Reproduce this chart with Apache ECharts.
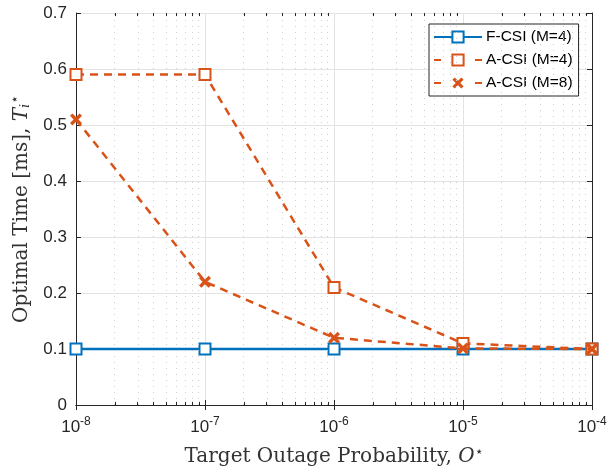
<!DOCTYPE html>
<html>
<head>
<meta charset="utf-8">
<script src="https://cdn.jsdelivr.net/npm/echarts@6/dist/echarts.min.js"></script>
<style>
  html, body { margin: 0; padding: 0; background: #fff; }
  #chart { width: 609px; height: 472px; }
</style>
</head>
<body>
<div id="chart"></div>
<script>
// 目标中断概率 (x, 对数轴)
var outage = [1e-8, 1e-7, 1e-6, 1e-5, 1e-4];
var fcsi_m4 = [0.1, 0.1, 0.1, 0.1, 0.1];
var acsi_m4 = [0.59, 0.59, 0.21, 0.11, 0.1];
var acsi_m8 = [0.51, 0.22, 0.12, 0.101, 0.1];
var decades = [-8, -7, -6, -5];     // 每个十倍程的起点
var minor_mult = [2, 3, 4, 5, 6, 7, 8, 9];
var legend_names = ['F-CSI (M=4)', 'A-CSI (M=4)', 'A-CSI (M=8)'];

var blue = '#0072BD';
var orange = '#D95319';
var axis_c = '#262626';
var cross = 'path://M2,0L5,3L8,0L10,2L7,5L10,8L8,10L5,7L2,10L0,8L3,5L0,2Z';

function toPairs(ys) {
  let out = [];
  for (let i = 0; i < outage.length; i++) {
    out.push([Math.log10(outage[i]), ys[i]]);
  }
  return out;
}

// 次刻度位置 (log10)
var minor_pos = [];
decades.forEach(function (d) {
  minor_mult.forEach(function (m) {
    minor_pos.push(d + Math.log10(m));
  });
});

var minorGrid = minor_pos.map(function (v) { return { xAxis: v }; });
var minorTicks = [];
minor_pos.forEach(function (v) {
  minorTicks.push([{ coord: [v, 0] }, { coord: [v, 0.0055] }]);
  minorTicks.push([{ coord: [v, 0.7] }, { coord: [v, 0.6945] }]);
});

var chart = echarts.init(document.getElementById('chart'));

var labelFont = 'Liberation Sans, Arial, Helvetica, sans-serif';
var serif = 'DejaVu Serif, serif';
var titleC = '#333333';

var option = {
  animation: false,
  backgroundColor: '#fff',
  grid: { left: 76, right: 17, top: 13, bottom: 67, containLabel: false, outerBoundsMode: 'none' },
  legend: {
    orient: 'vertical',
    left: 429,
    top: 24,
    itemWidth: 48,
    itemHeight: 14,
    itemGap: 7,
    padding: [5, 6, 5, 4],
    backgroundColor: '#fff',
    borderColor: axis_c,
    borderWidth: 1,
    textStyle: { fontFamily: labelFont, fontSize: 15.5, color: '#000', padding: [0, 0, 0, -1] },
    data: [
      { name: legend_names[0] },
      { name: legend_names[1], lineStyle: { type: [7, 34] } },
      { name: legend_names[2], lineStyle: { type: [7, 34] } }
    ]
  },
  xAxis: [
    {
      type: 'value',
      min: -8, max: -4, interval: 1,
      name: '{a|Target Outage Probability, }{o|O}{s|⋆}',
      nameLocation: 'middle',
      nameGap: 40,
      nameTextStyle: {
        rich: {
          a: { fontFamily: serif, fontSize: 20, color: titleC },
          o: { fontFamily: serif, fontSize: 20, fontStyle: 'italic', color: titleC },
          s: { fontFamily: 'DejaVu Sans', fontSize: 14, color: titleC, padding: [0, 0, 10, 0] }
        }
      },
      axisLine: { lineStyle: { color: axis_c, width: 1 } },
      axisTick: { inside: true, length: 5, lineStyle: { color: axis_c } },
      axisLabel: {
        margin: 11,
        formatter: function (v) { return '{b|10}{e|' + v + '}'; },
        rich: {
          b: { fontFamily: labelFont, fontSize: 17, color: axis_c },
          e: { fontFamily: labelFont, fontSize: 12, color: axis_c, padding: [0, 0, 11, 0] }
        }
      },
      splitLine: { show: true, lineStyle: { color: '#e3e3e3', width: 1 } }
    },
    {
      type: 'value', position: 'top',
      min: -8, max: -4, interval: 1,
      axisLine: { show: true, lineStyle: { color: axis_c, width: 1 } },
      axisTick: { show: true, inside: true, length: 5, lineStyle: { color: axis_c } },
      axisLabel: { show: false },
      splitLine: { show: false }
    }
  ],
  yAxis: [
    {
      type: 'value',
      min: 0, max: 0.7, interval: 0.1,
      name: '{a|Optimal Time [ms], }{t|T}{i|i}{s|⋆}',
      nameLocation: 'middle',
      nameGap: 38,
      nameRotate: 90,
      nameTextStyle: {
        rich: {
          a: { fontFamily: serif, fontSize: 20, color: titleC },
          t: { fontFamily: serif, fontSize: 20, fontStyle: 'italic', color: titleC },
          s: { fontFamily: 'DejaVu Sans', fontSize: 14, color: titleC, padding: [0, 0, 12, 0] },
          i: { fontFamily: serif, fontSize: 13, fontStyle: 'italic', color: titleC, padding: [9, 0, 0, 0] }
        }
      },
      axisLine: { show: true, lineStyle: { color: axis_c, width: 1 } },
      axisTick: { show: true, inside: true, length: 5, lineStyle: { color: axis_c } },
      axisLabel: {
        margin: 9,
        fontFamily: labelFont, fontSize: 17, color: axis_c,
        formatter: function (v) { return String(Math.round(v * 10) / 10); }
      },
      splitLine: { show: true, lineStyle: { color: '#e3e3e3', width: 1 } }
    },
    {
      type: 'value', position: 'right',
      min: 0, max: 0.7, interval: 0.1,
      axisLine: { show: true, lineStyle: { color: axis_c, width: 1 } },
      axisTick: { show: true, inside: true, length: 5, lineStyle: { color: axis_c } },
      axisLabel: { show: false },
      splitLine: { show: false }
    }
  ],
  series: [
    {
      name: 'minor',
      type: 'line',
      data: [],
      silent: true,
      z: 1,
      markLine: {
        silent: true,
        symbol: 'none',
        animation: false,
        label: { show: false },
        lineStyle: { color: '#cfcfcf', type: [1, 5], width: 1 },
        data: minorGrid
      }
    },
    {
      name: 'minorTicks',
      type: 'line',
      data: [],
      silent: true,
      z: 3,
      markLine: {
        silent: true,
        symbol: 'none',
        animation: false,
        label: { show: false },
        lineStyle: { color: axis_c, type: 'solid', width: 1 },
        data: minorTicks
      }
    },
    {
      name: legend_names[0],
      type: 'line',
      data: toPairs(fcsi_m4),
      symbol: 'rect',
      symbolSize: 11,
      lineStyle: { color: blue, width: 2.5 },
      itemStyle: { color: '#fff', borderColor: blue, borderWidth: 2 },
      z: 4
    },
    {
      name: legend_names[1],
      type: 'line',
      data: toPairs(acsi_m4),
      symbol: 'rect',
      symbolSize: 11,
      lineStyle: { color: orange, width: 2.5, type: [8, 6] },
      itemStyle: { color: '#fff', borderColor: orange, borderWidth: 2 },
      z: 5
    },
    {
      name: legend_names[2],
      type: 'line',
      data: toPairs(acsi_m8),
      symbol: cross,
      symbolSize: 12,
      lineStyle: { color: orange, width: 2.5, type: [8, 6] },
      itemStyle: { color: orange },
      z: 6
    }
  ]
};

option && chart.setOption(option);
</script>
</body>
</html>
